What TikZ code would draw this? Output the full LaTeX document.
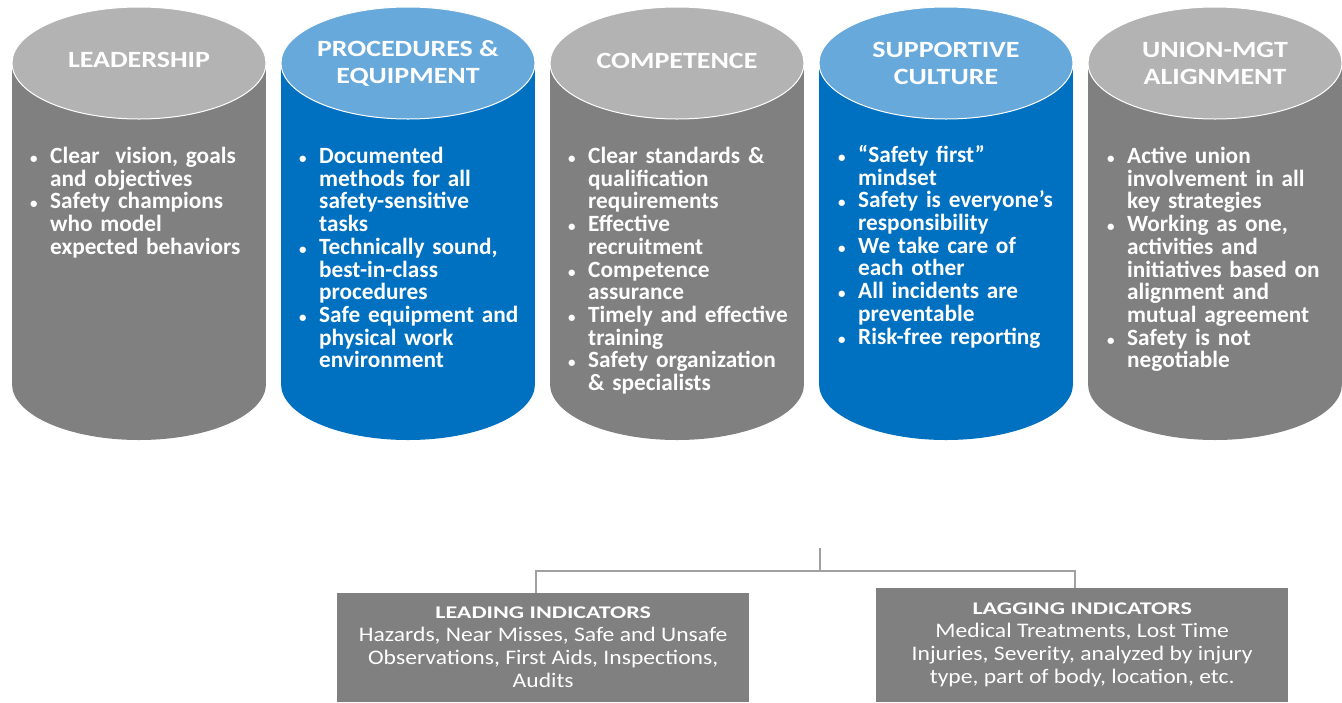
\documentclass[tikz,border=0pt]{standalone}
\usepackage{fontspec}
\setmainfont{Carlito}
\newfontfamily\headfont[FakeStretch=1.2]{Carlito}
\newfontfamily\boxheadfont[FakeStretch=1.35]{Carlito}
\newfontfamily\boxfont[FakeStretch=1.14]{Carlito}
\usetikzlibrary{positioning}
\setlength{\parskip}{0pt}

\definecolor{pillarbody}{HTML}{808080}
\definecolor{pillartop}{HTML}{B3B3B3}
\definecolor{bluebody}{HTML}{0070C0}
\definecolor{bluetop}{HTML}{67A9DB}
\definecolor{linkgray}{HTML}{A0A0A0}

% one bullet point, its lines hanging under the first
\newcommand{\bul}[1]{\hangindent=21pt\hangafter=1\noindent
    \makebox[21pt][l]{\hspace{1pt}{\fontsize{15}{15}\selectfont\textbullet}}%
    {\let\\\newline #1}\par}

\begin{document}
\begin{tikzpicture}[x=1pt,y=-1pt,
    pillar title/.style={text=white, align=center, inner sep=0pt,
        font=\headfont\bfseries\fontsize{23.3}{27}\selectfont},
    pillar list/.style={text=white, anchor=north west, inner sep=0pt,
        text width=240pt, align=left,
        font=\bfseries\fontsize{23.3}{22.7}\selectfont},
    indicator/.style={fill=pillarbody, text=white, anchor=north west,
        minimum width=412pt, minimum height=109pt, inner sep=0pt, align=center,
        font=\boxfont\fontsize{20.7}{23}\selectfont},
    link/.style={draw=linkgray, line width=1.5pt}]
    \useasboundingbox (0,0) rectangle (1342,702);

    % Draw the five pillars
    \foreach \cx/\ct/\cb in {139/pillartop/pillarbody, 408/bluetop/bluebody,
                             677/pillartop/pillarbody, 946/bluetop/bluebody,
                             1215/pillartop/pillarbody}{
        \fill[\cb] (\cx-127,63) rectangle (\cx+127,384);
        \fill[\cb] (\cx,384) ellipse [x radius=127, y radius=56];
        \filldraw[fill=\ct, draw=white, line width=1pt] (\cx,63) ellipse [x radius=127, y radius=56];
    }

    % Pillar headings
    \node[pillar title] (leadership) at (139,60) {LEADERSHIP};
    \node[pillar title] (procedures) at (408,63) {PROCEDURES \&\\EQUIPMENT};
    \node[pillar title] (competence) at (677,61) {COMPETENCE};
    \node[pillar title] (culture) at (946,63) {SUPPORTIVE\\CULTURE};
    \node[pillar title] (alignment) at (1215,63) {UNION-MGT\\ALIGNMENT};

    % Pillar contents
    \node[pillar list] (leadership list) at (29,147) {%
        \bul{Clear\ \ vision, goals\\and objectives}
        \bul{Safety champions\\who model\\expected behaviors}};
    \node[pillar list] (procedures list) at (298,147) {%
        \bul{Documented\\methods for all\\safety-sensitive\\tasks}
        \bul{Technically sound,\\best-in-class\\procedures}
        \bul{Safe equipment and\\physical work\\environment}};
    \node[pillar list] (competence list) at (567,147) {%
        \bul{Clear standards \&\\qualification\\requirements}
        \bul{Effective\\recruitment}
        \bul{Competence\\assurance}
        \bul{Timely and effective\\training}
        \bul{Safety organization\\\& specialists}};
    \node[pillar list] (culture list) at (837,145) {%
        \bul{“Safety first”\\mindset}
        \bul{Safety is everyone’s\\responsibility}
        \bul{We take care of\\each other}
        \bul{All incidents are\\preventable}
        \bul{Risk-free reporting}};
    \node[pillar list] (alignment list) at (1106,147) {%
        \bul{Active union\\involvement in all\\key strategies}
        \bul{Working as one,\\activities and\\initiatives based on\\alignment and\\mutual agreement}
        \bul{Safety is not\\negotiable}};

    % Indicator boxes
    \node[indicator] (leading) at (337,593) {%
        {\boxheadfont\bfseries\fontsize{17.8}{23}\selectfont LEADING INDICATORS}\\
        Hazards, Near Misses, Safe and Unsafe\\
        Observations, First Aids, Inspections,\\
        Audits};
    \node[indicator, minimum height=114pt] (lagging) at (876,588) {%
        {\boxheadfont\bfseries\fontsize{17.8}{23}\selectfont LAGGING INDICATORS}\\
        Medical Treatments, Lost Time\\
        Injuries, Severity, analyzed by injury\\
        type, part of body, location, etc.};

    % Connectors
    \coordinate (hub) at (820,548);
    \coordinate (fork) at (820,571);
    \draw[link] (hub) -- (fork);
    \draw[link] (fork) -| ([xshift=-7pt]leading.north);
    \draw[link] (fork) -| ([xshift=-7pt]lagging.north);
\end{tikzpicture}
\end{document}
